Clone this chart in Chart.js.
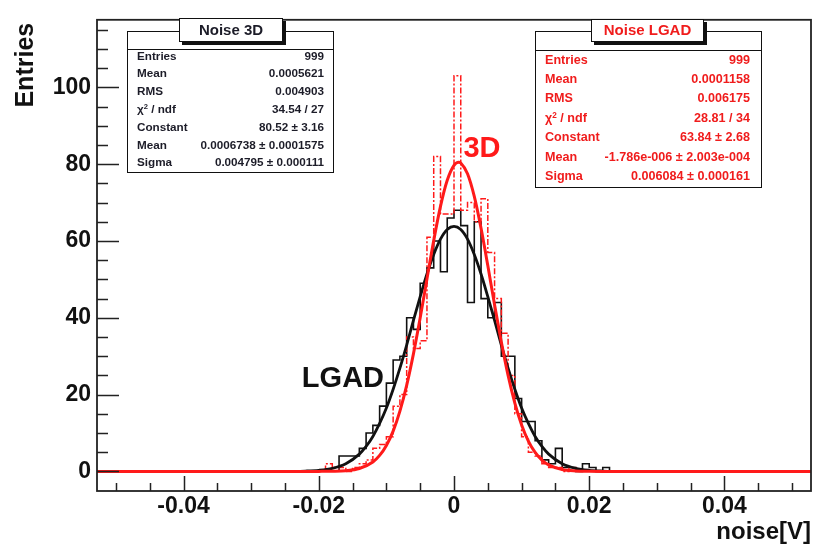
<!DOCTYPE html>
<html>
<head>
<meta charset="utf-8">
<script src="https://cdn.jsdelivr.net/npm/chart.js@4.4.1/dist/chart.umd.min.js"></script>
<style>
html,body{margin:0;padding:0;background:#fff;}
#wrap{position:relative;width:817px;height:551px;overflow:hidden;background:#fff;}
#c{position:absolute;left:0;top:0;}
.stat{position:absolute;background:#fff;border:1.5px solid #111;box-sizing:border-box;font-family:"Liberation Sans",Arial,sans-serif;font-weight:bold;}
.sep{position:absolute;left:0;right:0;height:0;border-top:1.5px solid #111;}
.row{position:absolute;display:flex;justify-content:space-between;white-space:nowrap;height:16px;line-height:16px;}
.stitle{position:absolute;background:#fff;border:1.5px solid #111;box-sizing:border-box;box-shadow:3px 3px 0 #111;text-align:center;font-family:"Liberation Sans",Arial,sans-serif;font-weight:bold;font-size:15px;}
sup{font-size:0.65em;line-height:0;vertical-align:0.55em;}
</style>
</head>
<body>
<div id="wrap">
<canvas id="c" width="817" height="551"></canvas>
</div>
<script>
// ---------------- data ----------------
const binWidth = 0.001;
// LGAD (black, solid) histogram: first bin low edge and counts per 0.001 V bin
const lgadFirstEdge = -0.017;
const lgadCounts = [4,4,4,6,10,12,17,23,29,30,40,37,49,53,60,52,66,68,64,44,65,45,40,44,30,30,19,13,13,8,3,2,6,1,1,0,2,1,0,1];
// 3D (red, dash-dot) histogram
const d3FirstEdge = -0.019;
const d3Counts = [2,1,1,0,1,2,3,6,7,9,17,20,35,32,34,61,82,67,67,103,68,70,65,71,57,45,36,25,15,9,5,4,2,1,1,0,1];

// Fit curves
const lgadFitX = [-0.026,-0.024,-0.022,-0.020,-0.018,-0.016,-0.014,-0.013,-0.012,-0.011,-0.010,-0.009,-0.008,-0.007,-0.006,-0.005,-0.004,-0.003,-0.002,-0.001,0,0.001,0.002,0.003,0.004,0.005,0.006,0.007,0.008,0.009,0.010,0.011,0.012,0.013,0.014,0.016,0.018,0.020,0.022,0.024,0.026];
const lgadFitY = [0.01,0.03,0.1,0.29,0.8,2.0,4.5,6.5,9.1,12.5,16.5,21.4,26.9,32.9,39.3,45.5,51.4,56.5,60.5,63.0,63.8,63.0,60.5,56.5,51.4,45.5,39.3,32.9,26.9,21.4,16.5,12.5,9.1,6.5,4.5,2.0,0.8,0.29,0.1,0.03,0.01];
const d3FitX = [-0.0528,-0.022,-0.020,-0.018,-0.016,-0.014,-0.012,-0.011,-0.010,-0.009,-0.008,-0.007,-0.006,-0.005,-0.004,-0.003,-0.002,-0.001,0,0.0007,0.001,0.002,0.003,0.004,0.005,0.006,0.007,0.008,0.009,0.010,0.011,0.012,0.013,0.014,0.016,0.018,0.020,0.022,0.0528];
const d3FitY = [0,0,0.007,0.04,0.19,0.75,2.46,4.17,6.77,10.5,15.7,22.4,30.6,40.0,50.1,60.1,69.0,75.8,79.7,80.5,80.3,77.5,71.6,63.3,53.6,43.4,33.7,25.0,17.8,12.1,7.9,4.94,2.95,1.69,0.49,0.12,0.02,0.003,0];

// axes
const xMin = -0.0528, xMax = 0.0528;
const yMin = -5.1, yMax = 117.6;
const xTickValues = [-0.04,-0.02,0,0.02,0.04];
const yTickValues = [0,20,40,60,80,100];

// annotations (data coordinates of text baseline-left)
const annText = ['3D','LGAD'];
const annX = [0.0014,-0.0225];
const annY = [82,22];
const annColor = ['#ff1a1a','#111111'];

// stat boxes
const stat3DLabels = ['Entries','Mean','RMS','χ<sup>2</sup> / ndf','Constant','Mean','Sigma'];
const stat3DValues = ['999','0.0005621','0.004903','34.54 / 27','80.52 ± 3.16','0.0006738 ± 0.0001575','0.004795 ± 0.000111'];
const statLGADLabels = ['Entries','Mean','RMS','χ<sup>2</sup> / ndf','Constant','Mean','Sigma'];
const statLGADValues = ['999','0.0001158','0.006175','28.81 / 34','63.84 ± 2.68','-1.786e-006 ± 2.003e-004','0.006084 ± 0.000161'];

// ---------------- helpers ----------------
function histPoints(firstEdge, w, counts){
  const pts = [{x:firstEdge, y:0}];
  counts.forEach((c,i)=>pts.push({x:firstEdge+i*w, y:c}));
  pts.push({x:firstEdge+counts.length*w, y:0});
  return pts;
}
function zipXY(xs, ys){ return xs.map((x,i)=>({x:x, y:ys[i]})); }

const RED = '#ff1a1a';
const BLK = '#111111';
const FONT = '"Liberation Sans", Arial, sans-serif';

const framePlugin = {
  id:'framePlugin',
  afterDatasetsDraw(chart){
    const {ctx, chartArea:a, scales:{x, y}} = chart;
    ctx.save();
    // ticks inside frame
    ctx.strokeStyle = '#222';
    ctx.lineWidth = 1.5;
    ctx.beginPath();
    for (let v = 0; v <= y.max; v += 5){
      const py = Math.round(y.getPixelForValue(v)) + 0.5;
      const len = (v % 20 === 0) ? 22 : 11;
      ctx.moveTo(a.left, py); ctx.lineTo(a.left + len, py);
    }
    for (let i = -10; i <= 10; i++){
      const v = i * 0.005;
      if (v < x.min || v > x.max) continue;
      const px = Math.round(x.getPixelForValue(v)) + 0.5;
      const len = (i % 4 === 0) ? 15 : 8;
      ctx.moveTo(px, a.bottom); ctx.lineTo(px, a.bottom - len);
    }
    ctx.stroke();
    // frame
    ctx.lineWidth = 1.8;
    ctx.strokeRect(a.left, a.top, a.right - a.left, a.bottom - a.top);
    // annotations
    ctx.textAlign = 'left';
    ctx.textBaseline = 'alphabetic';
    ctx.font = 'bold 29px ' + FONT;
    annText.forEach((t,i)=>{
      ctx.fillStyle = annColor[i];
      ctx.fillText(t, x.getPixelForValue(annX[i]), y.getPixelForValue(annY[i]));
    });
    // axis titles
    ctx.fillStyle = BLK;
    ctx.font = 'bold 24px ' + FONT;
    ctx.textAlign = 'right';
    ctx.fillText('noise[V]', a.right, 539);
    ctx.translate(33, a.top);
    ctx.rotate(-Math.PI/2);
    ctx.font = 'bold 25px ' + FONT;
    ctx.textAlign = 'right';
    ctx.fillText('Entries', -3, 0);
    ctx.restore();
  }
};

Chart.defaults.font.family = FONT;

new Chart(document.getElementById('c'), {
  type: 'line',
  data: {
    datasets: [
      { label:'3D fit', data: zipXY(d3FitX, d3FitY), borderColor: RED, borderWidth: 3, pointRadius: 0, cubicInterpolationMode: 'monotone', fill: false, order: 0 },
      { label:'LGAD fit', data: zipXY(lgadFitX, lgadFitY), borderColor: BLK, borderWidth: 2.8, pointRadius: 0, cubicInterpolationMode: 'monotone', fill: false, order: 1 },
      { label:'Noise 3D hist', data: histPoints(d3FirstEdge, binWidth, d3Counts), borderColor: RED, borderWidth: 1.5, borderDash: [6,2,2,2], pointRadius: 0, stepped: 'before', fill: false, order: 2 },
      { label:'Noise LGAD hist', data: histPoints(lgadFirstEdge, binWidth, lgadCounts), borderColor: BLK, borderWidth: 1.6, pointRadius: 0, stepped: 'before', fill: false, order: 3 }
    ]
  },
  options: {
    responsive: false,
    animation: false,
    devicePixelRatio: 1,
    layout: { padding: { top: 11, right: 6, left: 0, bottom: 0 } },
    plugins: { legend: { display: false }, tooltip: { enabled: false } },
    scales: {
      x: {
        type: 'linear', min: xMin, max: xMax,
        grid: { display: false, drawTicks: false }, border: { display: false },
        afterBuildTicks: s => { s.ticks = xTickValues.map(v => ({value: v})); },
        afterFit: s => { s.height = 60; },
        ticks: { color: BLK, font: { size: 23, weight: 'bold' }, padding: 2, maxRotation: 0, autoSkip: false,
                 callback: v => (v === 0 ? '0' : String(v)) }
      },
      y: {
        type: 'linear', min: yMin, max: yMax,
        grid: { display: false, drawTicks: false }, border: { display: false },
        afterBuildTicks: s => { s.ticks = yTickValues.map(v => ({value: v})); },
        afterFit: s => { s.width = 97; },
        ticks: { color: BLK, font: { size: 23, weight: 'bold' }, padding: 6, autoSkip: false,
                 callback: v => String(v) }
      }
    }
  },
  plugins: [framePlugin]
});

// ---------------- stat boxes (HTML text) ----------------
function statBox(o){
  const wrap = document.getElementById('wrap');
  const box = document.createElement('div');
  box.className = 'stat';
  Object.assign(box.style, {left:o.left+'px', top:o.top+'px', width:o.w+'px', height:o.h+'px', color:o.color, fontSize:o.fs+'px'});
  const sep = document.createElement('div');
  sep.className = 'sep'; sep.style.top = o.sep + 'px';
  box.appendChild(sep);
  o.labels.forEach((lab,i)=>{
    const r = document.createElement('div');
    r.className = 'row';
    Object.assign(r.style, {left:o.padL+'px', right:o.padR+'px', top:(o.row0 + i*o.dy - 8)+'px'});
    r.innerHTML = '<span>'+lab+'</span><span>'+o.values[i]+'</span>';
    box.appendChild(r);
  });
  wrap.appendChild(box);
  const t = document.createElement('div');
  t.className = 'stitle';
  Object.assign(t.style, {left:o.tl+'px', top:o.tt+'px', width:o.tw+'px', height:o.th+'px', lineHeight:(o.th-3)+'px', color:o.color});
  t.textContent = o.title;
  wrap.appendChild(t);
}
statBox({title:'Noise 3D', labels:stat3DLabels, values:stat3DValues, color:'#1c1c28', fs:11.7,
  left:127, top:31, w:207, h:142, sep:16.5, row0:23.5, dy:17.8, padL:9, padR:9,
  tl:179, tt:18, tw:104, th:24});
statBox({title:'Noise LGAD', labels:statLGADLabels, values:statLGADValues, color:'#f01c1c', fs:12.6,
  left:535, top:31, w:227, h:157, sep:18, row0:27.5, dy:19.4, padL:9, padR:11,
  tl:591, tt:19, tw:113, th:23});
</script>
</body>
</html>
